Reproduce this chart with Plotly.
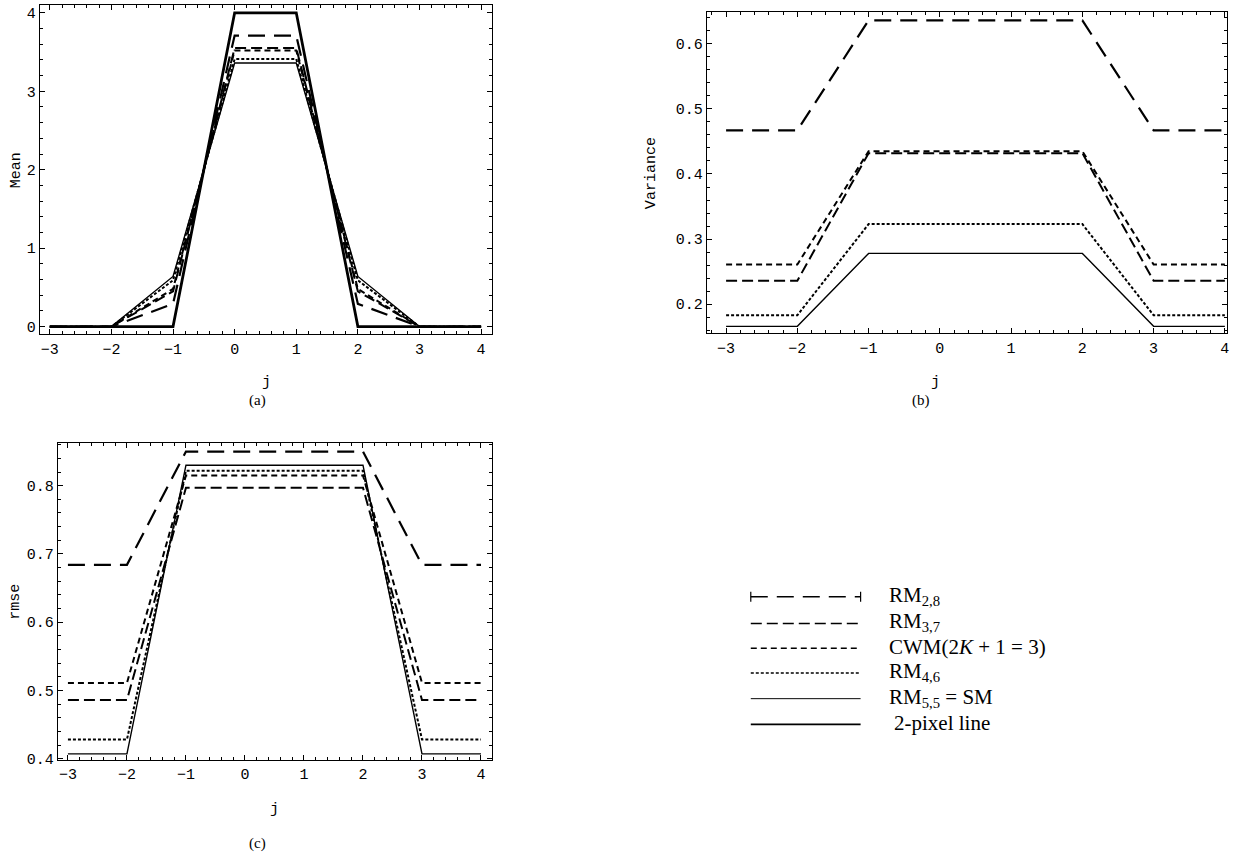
import plotly.graph_objects as go

W, H = 1235, 866

# ---------------- data ----------------
j = [-3, -2, -1, 0, 1, 2, 3, 4]

series = ["RM28", "RM37", "CWM", "RM46", "SM", "TWO"]
labels = {
    "RM28": "RM<sub>2,8</sub>",
    "RM37": "RM<sub>3,7</sub>",
    "CWM": "CWM(2<i>K</i> + 1 = 3)",
    "RM46": "RM<sub>4,6</sub>",
    "SM": "RM<sub>5,5</sub> = SM",
    "TWO": "2-pixel line",
}

mean_rm28 = [0, 0, 0.29, 3.71, 3.71, 0.29, 0, 0]
mean_rm37 = [0, 0, 0.45, 3.55, 3.55, 0.45, 0, 0]
mean_cwm = [0, 0, 0.48, 3.52, 3.52, 0.48, 0, 0]
mean_rm46 = [0, 0, 0.59, 3.41, 3.41, 0.59, 0, 0]
mean_sm = [0, 0, 0.64, 3.36, 3.36, 0.64, 0, 0]
mean_two = [0, 0, 0, 4, 4, 0, 0, 0]

var_rm28 = [0.467, 0.467, 0.636, 0.636, 0.636, 0.636, 0.467, 0.467]
var_rm37 = [0.236, 0.236, 0.432, 0.432, 0.432, 0.432, 0.236, 0.236]
var_cwm = [0.261, 0.261, 0.435, 0.435, 0.435, 0.435, 0.261, 0.261]
var_rm46 = [0.183, 0.183, 0.323, 0.323, 0.323, 0.323, 0.183, 0.183]
var_sm = [0.166, 0.166, 0.278, 0.278, 0.278, 0.278, 0.166, 0.166]

rmse_rm28 = [0.684, 0.684, 0.850, 0.850, 0.850, 0.850, 0.684, 0.684]
rmse_rm37 = [0.486, 0.486, 0.797, 0.797, 0.797, 0.797, 0.486, 0.486]
rmse_cwm = [0.511, 0.511, 0.815, 0.815, 0.815, 0.815, 0.511, 0.511]
rmse_rm46 = [0.428, 0.428, 0.822, 0.822, 0.822, 0.822, 0.428, 0.428]
rmse_sm = [0.407, 0.407, 0.830, 0.830, 0.830, 0.830, 0.407, 0.407]

x_ticks = [-3, -2, -1, 0, 1, 2, 3, 4]
mean_ticks = [0, 1, 2, 3, 4]
var_ticks = [0.2, 0.3, 0.4, 0.5, 0.6]
rmse_ticks = [0.4, 0.5, 0.6, 0.7, 0.8]

panel_data = {
    "a": {"RM28": mean_rm28, "RM37": mean_rm37, "CWM": mean_cwm,
          "RM46": mean_rm46, "SM": mean_sm, "TWO": mean_two},
    "b": {"RM28": var_rm28, "RM37": var_rm37, "CWM": var_cwm,
          "RM46": var_rm46, "SM": var_sm},
    "c": {"RM28": rmse_rm28, "RM37": rmse_rm37, "CWM": rmse_cwm,
          "RM46": rmse_rm46, "SM": rmse_sm},
}

# ---------------- styles ----------------
style = {
    "RM28": dict(color="black", width=2.2, dash="17px,9px"),
    "RM37": dict(color="black", width=2.0, dash="11px,5px"),
    "CWM": dict(color="black", width=2.0, dash="6px,4px"),
    "RM46": dict(color="black", width=2.0, dash="3px,2px"),
    "SM": dict(color="black", width=1.4, dash="solid"),
    "TWO": dict(color="black", width=2.8, dash="solid"),
}

def xdom(x0, x1):
    return [x0 / W, x1 / W]

def ydom(y0, y1):
    return [1 - y1 / H, 1 - y0 / H]

# panel boxes in pixels: (x0, x1, y0, y1)
boxes = {
    "a": (40, 493, 5, 338),
    "b": (708, 1229, 12, 337),
    "c": (58, 493, 448, 768),
}
axis_ids = {"a": ("x", "y", ""), "b": ("x2", "y2", "2"), "c": ("x3", "y3", "3")}
xranges = {"a": [-3.16, 4.18], "b": [-3.27, 4.03], "c": [-3.17, 4.19]}
yranges = {"a": [-0.1, 4.1], "b": [0.155, 0.649], "c": [0.398, 0.862]}
yticks = {"a": mean_ticks, "b": var_ticks, "c": rmse_ticks}
ytickfmt = {"a": "d", "b": ".1f", "c": ".1f"}
yminor = {"a": 0.2, "b": 0.02, "c": 0.02}

fig = go.Figure()

order = ["RM28", "RM37", "CWM", "RM46", "SM", "TWO"]
for p in ["a", "b", "c"]:
    xa, ya, _ = axis_ids[p]
    for key in order:
        if key in panel_data[p]:
            fig.add_trace(go.Scatter(
                x=j, y=panel_data[p][key], mode="lines",
                line=style[key], xaxis=xa, yaxis=ya,
                showlegend=False, hoverinfo="skip"))

mono = dict(family="Liberation Mono, Courier New, monospace", size=15, color="black")
serif = dict(family="Liberation Serif, Times New Roman, serif", size=15, color="black")

common = dict(
    showline=True, linecolor="black", linewidth=1.3, mirror="allticks",
    ticks="inside", ticklen=5, tickwidth=1, tickcolor="black",
    showgrid=False, zeroline=False, tickfont=mono, ticklabeloverflow="allow",
)

layout = dict(
    width=W, height=H, margin=dict(l=0, r=0, t=0, b=0),
    paper_bgcolor="white", plot_bgcolor="white", showlegend=False,
)

for p in ["a", "b", "c"]:
    x0, x1, y0, y1 = boxes[p]
    _, _, s = axis_ids[p]
    layout["xaxis" + s] = dict(
        common, domain=xdom(x0, x1), range=xranges[p], tickvals=x_ticks,
        anchor="y" + s,
        minor=dict(ticks="inside", ticklen=3, dtick=0.2, tick0=0, tickcolor="black", tickwidth=1),
    )
    layout["yaxis" + s] = dict(
        common, domain=ydom(y0, y1), range=yranges[p], tickvals=yticks[p],
        tickformat=ytickfmt[p], anchor="x" + s,
        minor=dict(ticks="inside", ticklen=3, dtick=yminor[p], tick0=0, tickcolor="black", tickwidth=1),
    )

fig.update_layout(**layout)

annotations = []
def ann(text, xpx, ypx, font, angle=0, xanchor="center"):
    annotations.append(dict(
        text=text, x=xpx / W, y=1 - ypx / H, xref="paper", yref="paper",
        showarrow=False, font=font, textangle=angle, xanchor=xanchor, yanchor="middle"))

# axis titles
ann("Mean", 16, 172, mono, angle=-90)
ann("j", 267, 387, mono)
ann("(a)", 258, 405, serif)
ann("Variance", 652, 175, mono, angle=-90)
ann("j", 937, 387, mono)
ann("(b)", 922, 405, serif)
ann("rmse", 16, 608, mono, angle=-90)
ann("j", 275, 818, mono)
ann("(c)", 258, 852, serif)

# legend (manual, lower right)
leg_font = dict(family="Liberation Serif, Times New Roman, serif", size=21, color="black")
shapes = []
leg_x0, leg_x1, leg_tx = 752, 862, 888
leg_rows = [603, 630, 655, 680, 706, 732]
for key, yrow in zip(order, leg_rows):
    st = style[key]
    shapes.append(dict(type="line", xref="paper", yref="paper",
                       x0=leg_x0 / W, x1=leg_x1 / W, y0=1 - yrow / H, y1=1 - yrow / H,
                       line=dict(color="black", width=st["width"] * 0.7, dash=st["dash"])))
    tx = leg_tx if key != "TWO" else leg_tx + 5
    ann(labels[key], tx, yrow - 1, leg_font, xanchor="left")
# end bars for the long-dash sample
for xe in (leg_x0, leg_x1):
    shapes.append(dict(type="line", xref="paper", yref="paper",
                       x0=xe / W, x1=xe / W, y0=1 - (leg_rows[0] - 5) / H, y1=1 - (leg_rows[0] + 5) / H,
                       line=dict(color="black", width=1.2)))

fig.update_layout(annotations=annotations, shapes=shapes)

fig.write_html("out.html", config={"displayModeBar": False},
               post_script="document.body.style.margin='0';")
